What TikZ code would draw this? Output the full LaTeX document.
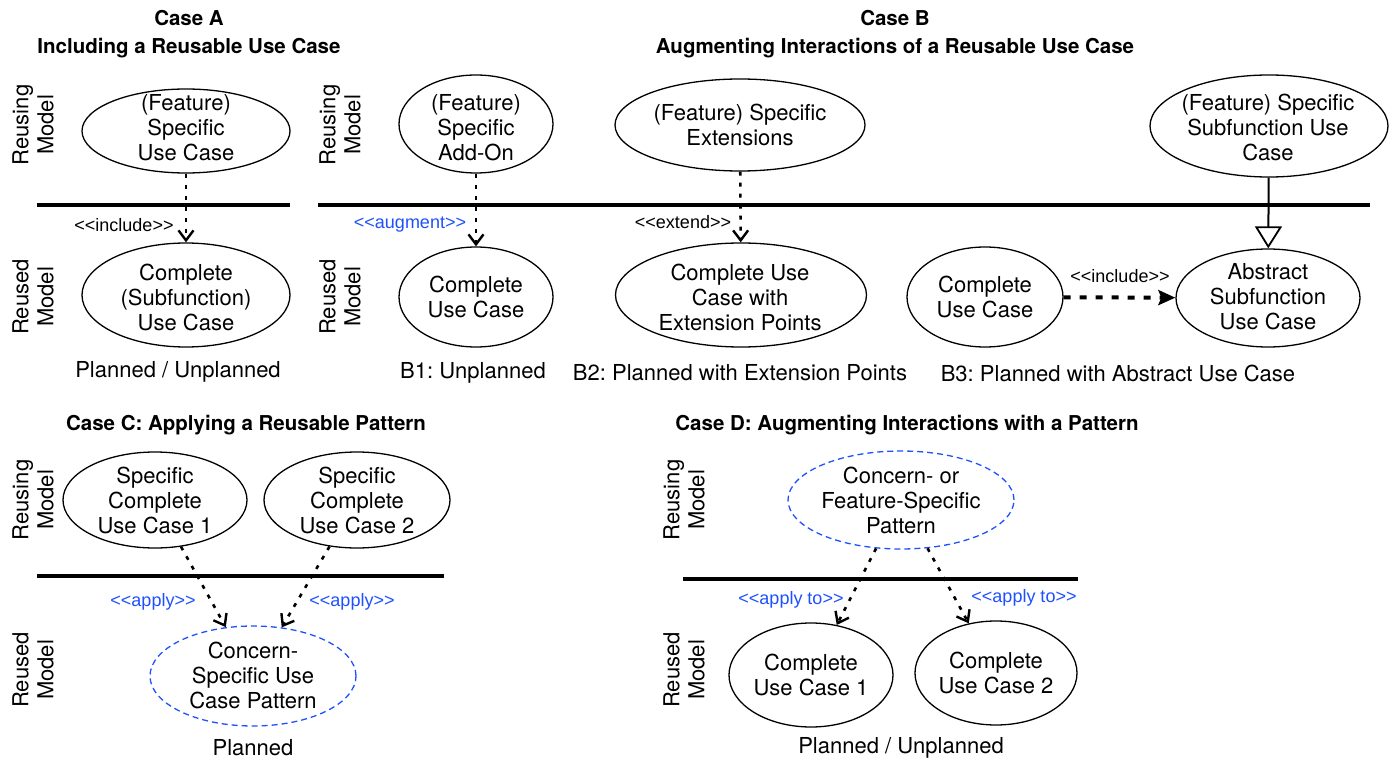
\documentclass[tikz,border=0pt]{standalone}
\usepackage{fontspec}
\setmainfont{TeX Gyre Heros}
\newfontfamily\lblfont{Liberation Sans}[Ligatures=ResetAll]
\usetikzlibrary{shapes.geometric,arrows.meta}
\definecolor{umlblue}{RGB}{30,80,255}
\frenchspacing
\newcommand\fsmain{\fontsize{22}{25}\selectfont}
\newcommand\fssmall{\lblfont\fontsize{18}{20}\selectfont}
\newcommand\fstitle{\fontsize{20.5}{28}\selectfont\bfseries}
\newcommand\stereo[1]{<{}<#1>{}>}
\begin{document}
\begin{tikzpicture}[x=1pt,y=-1pt,
  uc/.style={ellipse,draw,line width=1.3pt,inner sep=0pt},
  pat/.style={ellipse,draw=umlblue,dash pattern=on 6pt off 4pt,line width=1.3pt,inner sep=0pt},
  txt/.style={align=center,font=\fsmain,inner sep=0pt},
  ttl/.style={align=center,font=\fstitle,inner sep=0pt},
  side/.style={align=center,font=\fsmain,inner sep=0pt,rotate=90},
  lbl/.style={font=\fssmall,inner sep=0pt},
  blbl/.style={font=\fssmall,inner sep=0pt,text=umlblue},
  sep/.style={line width=4pt},
  dep/.style={line width=2.6pt,dash pattern=on 4pt off 7pt,-{Straight Barb[length=10pt,width=15pt,line width=2.4pt]}},
  incl/.style={line width=4pt,dash pattern=on 7pt off 9pt,-{Stealth[length=17pt,width=15pt,inset=3pt]}},
  gen/.style={line width=2pt,-{Triangle[open,length=22pt,width=27pt,line width=1.8pt]}}
]
\useasboundingbox (0,0) rectangle (1395,762);

% ---------- Titles
\node[ttl] (tA) at (189,34) {Case A\\Including a Reusable Use Case};
\node[ttl] (tB) at (895,34) {Case B\\Augmenting Interactions of a Reusable Use Case};
\node[ttl] (tC) at (246,425) {Case C: Applying a Reusable Pattern};
\node[ttl] (tD) at (907,425) {Case D: Augmenting Interactions with a Pattern};

% ---------- side labels
\node[side] (sA1) at (33,125) {Reusing\\Model};
\node[side] (sA2) at (33,297) {Reused\\Model};
\node[side] (sB1) at (340,125) {Reusing\\Model};
\node[side] (sB2) at (340,297) {Reused\\Model};
\node[side] (sC1) at (33,500) {Reusing\\Model};
\node[side] (sC2) at (33,670) {Reused\\Model};
\node[side] (sD1) at (684,500) {Reusing\\Model};
\node[side] (sD2) at (684,670) {Reused\\Model};

% ---------- separators
\draw[sep] (37,205) -- (290,205);
\draw[sep] (318,205) -- (1370,205);
\draw[sep] (37,576) -- (444,576);
\draw[sep] (683,579) -- (1078,579);

% ---------- Case A
\node[uc,minimum width=208,minimum height=84] (at) at (186,131) {};
\node[txt] (att) at (186,128) {(Feature)\\Specific\\Use Case};
\node[uc,minimum width=208,minimum height=104] (ab) at (186,295) {};
\node[txt] (abt) at (186,297) {Complete\\(Subfunction)\\Use Case};
\draw[dep] (at) -- (ab);
\node[lbl] (al) at (124,225) {\stereo{include}};
\node[txt] (acap) at (178,372) {Planned / Unplanned};

% ---------- Case B1
\node[uc,minimum width=154,minimum height=98] (b1t) at (476,124) {};
\node[txt] (b1tt) at (476,128) {(Feature)\\Specific\\Add-On};
\node[uc,minimum width=154,minimum height=100] (b1b) at (476,297) {};
\node[txt] (b1bt) at (476,297) {Complete\\Use Case};
\draw[dep] (b1t) -- (b1b);
\node[blbl] (b1l) at (410,225) {\stereo{augment}};
\node[txt] (b1cap) at (473,373) {B1: Unplanned};

% ---------- Case B2
\node[uc,minimum width=250,minimum height=92] (b2t) at (740,125) {};
\node[txt] (b2tt) at (740,125) {(Feature) Specific\\Extensions};
\node[uc,minimum width=251,minimum height=104] (b2b) at (741,295) {};
\node[txt] (b2bt) at (740,297) {Complete Use\\Case with\\Extension Points};
\draw[dep] (b2t) -- (b2b);
\node[lbl] (b2l) at (683,222) {\stereo{extend}};
\node[txt] (b2cap) at (740,373) {B2: Planned with Extension Points};

% ---------- Case B3
\node[uc,minimum width=238,minimum height=102] (b3t) at (1269,126) {};
\node[txt] (b3tt) at (1268,127) {(Feature) Specific\\Subfunction Use\\Case};
\node[uc,minimum width=156,minimum height=100] (b3c) at (985,297) {};
\node[txt] (b3ct) at (985,297) {Complete\\Use Case};
\node[uc,minimum width=184,minimum height=98] (b3a) at (1268,298) {};
\node[txt] (b3at) at (1268,297) {Abstract\\Subfunction\\Use Case};
\draw[gen] (b3t) -- (b3a);
\draw[incl] (b3c) -- (b3a);
\node[lbl] (b3l) at (1120,276) {\stereo{include}};
\node[txt] (b3cap) at (1118,373) {B3: Planned with Abstract Use Case};

% ---------- Case C
\node[uc,minimum width=184,minimum height=96] (c1) at (155,500) {};
\node[txt] (c1t) at (155,500) {Specific\\Complete\\Use Case 1};
\node[uc,minimum width=186,minimum height=96] (c2) at (357,500) {};
\node[txt] (c2t) at (357,500) {Specific\\Complete\\Use Case 2};
\node[pat,minimum width=206,minimum height=100] (cp) at (253,676) {};
\node[txt] (cpt) at (253,675) {Concern-\\Specific Use\\Case Pattern};
\draw[dep] (c1) -- (cp);
\draw[dep] (c2) -- (cp);
\node[blbl] (cl1) at (153,602) {\stereo{apply}};
\node[blbl] (cl2) at (352,602) {\stereo{apply}};
\node[txt] (ccap) at (253,748) {Planned};

% ---------- Case D
\node[pat,minimum width=226,minimum height=98] (dp) at (901,500) {};
\node[txt] (dpt) at (901,500) {Concern- or\\Feature-Specific\\Pattern};
\node[uc,minimum width=164,minimum height=104] (d1) at (811,675) {};
\node[txt] (d1t) at (811,675) {Complete\\Use Case 1};
\node[uc,minimum width=162,minimum height=104] (d2) at (996,673) {};
\node[txt] (d2t) at (996,673) {Complete\\Use Case 2};
\draw[dep] (dp) -- (d1);
\draw[dep] (dp) -- (d2);
\node[blbl] (dl1) at (791,600) {\stereo{apply to}};
\node[blbl] (dl2) at (1024,598) {\stereo{apply to}};
\node[txt] (dcap) at (901,748) {Planned / Unplanned};
\end{tikzpicture}
\end{document}
